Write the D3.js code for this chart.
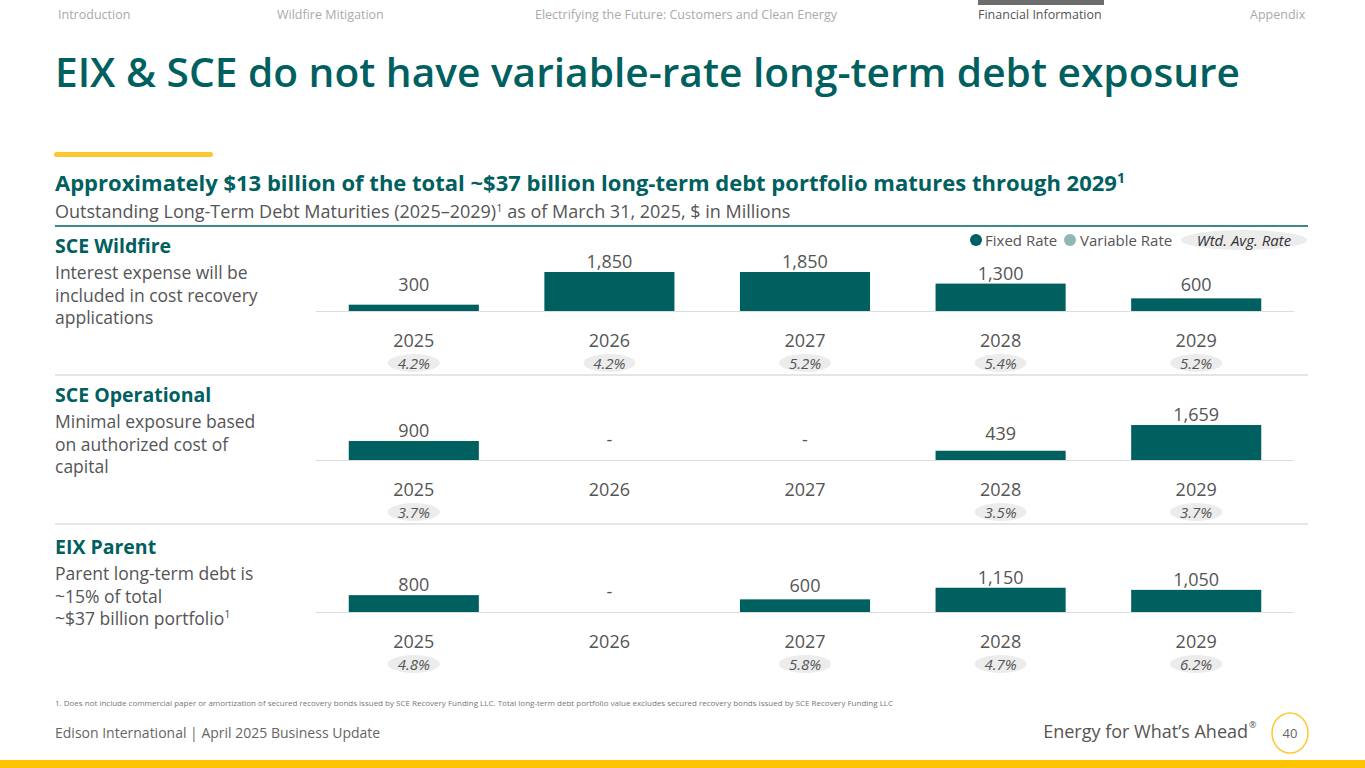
<!DOCTYPE html>
<html><head><meta charset="utf-8">
<script src="https://cdn.jsdelivr.net/npm/d3@7"></script>
<style>body{margin:0;background:#fff}svg{display:block;font-family:"Open Sans","Noto Sans",sans-serif}</style>
</head><body>
<svg id="c" width="1365" height="768"></svg>
<script>
const years = ["2025","2026","2027","2028","2029"];
const segments = ["SCE Wildfire","SCE Operational","EIX Parent"];
const descriptions = [
  ["Interest expense will be","included in cost recovery","applications"],
  ["Minimal exposure based","on authorized cost of","capital"],
  ["Parent long-term debt is","~15% of total","~$37 billion portfolio¹"]
];
const wildfireValues = [300,1850,1850,1300,600];
const operationalValues = [900,null,null,439,1659];
const parentValues = [800,null,600,1150,1050];
const wildfireRates = ["4.2%","4.2%","5.2%","5.4%","5.2%"];
const operationalRates = ["3.7%",null,null,"3.5%","3.7%"];
const parentRates = ["4.8%",null,"5.8%","4.7%","6.2%"];
const navItems = [["Introduction",58],["Wildfire Mitigation",277],["Electrifying the Future: Customers and Clean Energy",535],["Financial Information",978],["Appendix",1250]];

const teal="#00605f";
const svg=d3.select("#c");
navItems.forEach(([t,x],i)=>svg.append("text").attr("x",x).attr("y",19).attr("font-size",12.5)
  .attr("fill",i==3?"#555":"#aaa").text(t));
svg.append("rect").attr("x",978).attr("y",0).attr("width",126).attr("height",5).attr("fill","#6d6d6d");
svg.append("text").attr("x",55).attr("y",87).attr("font-size",39).attr("font-weight",600).attr("fill",teal)
  .attr("textLength",1185).attr("lengthAdjust","spacingAndGlyphs")
  .text("EIX & SCE do not have variable-rate long-term debt exposure");
svg.append("rect").attr("x",54).attr("y",152).attr("width",159).attr("height",5).attr("rx",2.5).attr("fill","#fdc82f");
const st=svg.append("text").attr("x",55).attr("y",191).attr("font-size",22).attr("font-weight",700).attr("fill",teal)
  .text("Approximately $13 billion of the total ~$37 billion long-term debt portfolio matures through 2029");
st.append("tspan").attr("font-size",14).attr("dy",-8).text("1");
const sub=svg.append("text").attr("x",55).attr("y",218).attr("font-size",18).attr("fill","#555")
  .text("Outstanding Long-Term Debt Maturities (2025–2029)");
sub.append("tspan").attr("font-size",11).attr("dy",-6).text("1");
sub.append("tspan").attr("dy",6).text(" as of March 31, 2025, $ in Millions");
svg.append("line").attr("x1",55).attr("x2",1308).attr("y1",226).attr("y2",226).attr("stroke",teal).attr("stroke-width",1.5);
[375,524].forEach(y=>svg.append("line").attr("x1",55).attr("x2",1308).attr("y1",y).attr("y2",y).attr("stroke","#ccc"));

svg.append("circle").attr("cx",976).attr("cy",240).attr("r",6).attr("fill",teal);
svg.append("text").attr("x",985).attr("y",246).attr("font-size",15).attr("fill","#555").text("Fixed Rate");
svg.append("circle").attr("cx",1070).attr("cy",240).attr("r",6).attr("fill","#8fb8b5");
svg.append("text").attr("x",1080).attr("y",246).attr("font-size",15).attr("fill","#555").text("Variable Rate");
svg.append("ellipse").attr("cx",1244).attr("cy",240).attr("rx",63).attr("ry",10).attr("fill","#ececec");
svg.append("text").attr("x",1244).attr("y",246).attr("text-anchor","middle").attr("font-size",15).attr("font-style","italic").attr("fill","#333").text("Wtd. Avg. Rate");

const x=d3.scaleBand().domain(years).range([316,1294]).paddingInner(0.335).paddingOuter(0.1675);
const h=d3.scaleLinear().domain([0,1850]).range([0,39]);
const panels=[[wildfireValues,wildfireRates,311,247],[operationalValues,operationalRates,460,396],[parentValues,parentRates,612,548]];
panels.forEach(([vals,rates,base,ty],pi)=>{
  const g=svg.append("g");
  g.append("text").attr("x",55).attr("y",ty+6).attr("font-size",19.5).attr("font-weight",700).attr("fill",teal).text(segments[pi]);
  descriptions[pi].forEach((l,i)=>{
    const t=g.append("text").attr("x",55).attr("y",ty+32+i*22.5).attr("font-size",17.5).attr("fill","#555")
      .attr("textLength",null);
    if(l.endsWith("¹")){t.text(l.slice(0,-1));t.append("tspan").attr("font-size",11).attr("dy",-7).text("1");}
    else t.text(l);
  });
  g.append("line").attr("x1",316).attr("x2",1294).attr("y1",base+0.5).attr("y2",base+0.5).attr("stroke","#ddd");
  years.forEach((yr,i)=>{
    const v=vals[i], cx=x(yr)+x.bandwidth()/2;
    if(v!=null){
      g.append("rect").attr("x",x(yr)).attr("width",x.bandwidth()).attr("y",base-h(v)).attr("height",h(v)).attr("fill",teal);
      g.append("text").attr("x",cx).attr("y",Math.min(base-h(v)-4,base-20)).attr("text-anchor","middle")
        .attr("font-size",18).attr("fill","#555").text(d3.format(",")(v));
    } else {
      g.append("text").attr("x",cx).attr("y",base-14).attr("text-anchor","middle").attr("font-size",18).attr("fill","#555").text("-");
    }
    g.append("text").attr("x",cx).attr("y",base+36).attr("text-anchor","middle").attr("font-size",18).attr("fill","#555").text(yr);
    if(rates[i]){
      g.append("ellipse").attr("cx",cx).attr("cy",base+52).attr("rx",26).attr("ry",9).attr("fill","#ececec");
      g.append("text").attr("x",cx).attr("y",base+58).attr("text-anchor","middle").attr("font-size",15).attr("font-style","italic").attr("fill","#555").text(rates[i]);
    }
  });
});
svg.append("text").attr("x",55).attr("y",706).attr("font-size",8).attr("fill","#777")
  .text("1.   Does not include commercial paper or amortization of secured recovery bonds issued by SCE Recovery Funding LLC. Total long-term debt portfolio value excludes secured recovery bonds issued by SCE Recovery Funding LLC");
svg.append("text").attr("x",55).attr("y",738).attr("font-size",14).attr("fill","#666").text("Edison International |  April 2025 Business Update");
svg.append("text").attr("x",1248).attr("y",738).attr("text-anchor","end").attr("font-size",18).attr("fill","#555").text("Energy for What’s Ahead");
svg.append("text").attr("x",1249).attr("y",728).attr("font-size",9).attr("fill","#555").text("®");
svg.append("ellipse").attr("cx",1290).attr("cy",733).attr("rx",18).attr("ry",20).attr("fill","none").attr("stroke","#fdc82f").attr("stroke-width",1.5);
svg.append("text").attr("x",1290).attr("y",738).attr("text-anchor","middle").attr("font-size",13).attr("fill","#666").text("40");
svg.append("rect").attr("x",0).attr("y",760).attr("width",1365).attr("height",8).attr("fill","#fdc400");
</script></body></html>
